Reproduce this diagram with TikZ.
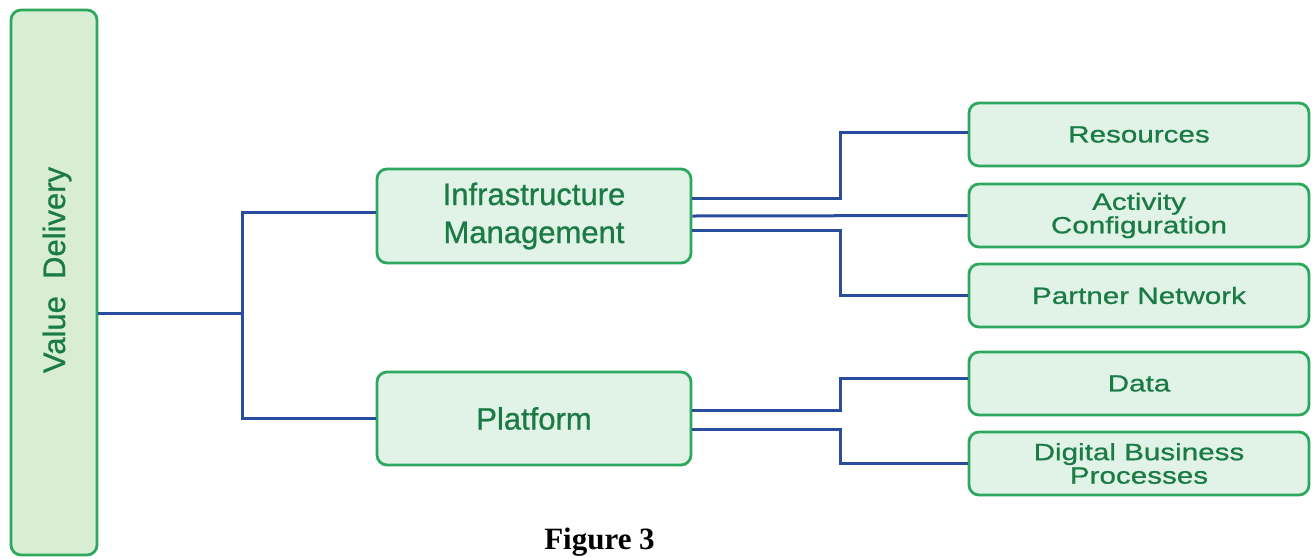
\documentclass[tikz,border=0pt]{standalone}
\usepackage{fontspec}
\setmainfont[FakeBold=0.8]{Liberation Sans}
\newfontfamily\widefont[FakeStretch=1.26,FakeBold=0.8]{Liberation Sans}
\newfontfamily\capfont{Liberation Serif}
\usetikzlibrary{calc}
\definecolor{boxline}{HTML}{2EA85E}
\definecolor{boxfill}{HTML}{E1F2E7}
\definecolor{vdfill}{HTML}{D9ECD4}
\definecolor{boxtext}{HTML}{1B7B45}
\definecolor{conncol}{HTML}{2A4C9E}
\tikzset{
  gbox/.style={draw=boxline, fill=boxfill, line width=2.8pt, rounded corners=10pt,
    text=boxtext, align=center, inner sep=0pt},
  midbox/.style={gbox, minimum width=314pt, minimum height=94pt,
    font=\fontsize{31}{38}\selectfont},
  leafbox/.style={gbox, minimum width=340pt, minimum height=63pt,
    font=\widefont\fontsize{23.5}{23.5}\selectfont},
  conn/.style={draw=conncol, line width=3pt},
}
\begin{document}
\begin{tikzpicture}[x=1pt, y=-1pt]
\useasboundingbox (0,0) rectangle (1315,558);

% left column
\node[gbox, fill=vdfill, minimum width=86pt, minimum height=545pt] (vd) at (54,282.5) {};
\node[text=boxtext, rotate=90, font=\fontsize{31}{31}\selectfont] (vdtext) at (57,270) {Value\ \ Delivery};

% middle column
\node[midbox] (im) at (534,216) {Infrastructure\\Management};
\node[midbox, minimum height=93pt] (plat) at (534,418.5) {Platform};

% right column
\node[leafbox] (res) at (1139,134.5) {Resources};
\node[leafbox] (act) at (1139,215.5) {Activity\\Configuration};
\node[leafbox] (pn)  at (1139,295.5) {Partner Network};
\node[leafbox] (data) at (1139,383.5) {Data};
\node[leafbox] (dbp) at (1139,463.5) {Digital Business\\Processes};

% trunk from the left column
\draw[conn] ([yshift=-30.5pt]vd.east) -- ++(144,0) coordinate (j);
\draw[conn] ([yshift=4pt]im.west) -| (j) |- (plat.west);

% branches of infrastructure management
\draw[conn] ([yshift=18pt]im.east) -- ++(148,0) |- ([yshift=2pt]res.west);
\draw[conn] (im.east) -- (act.west);
\draw[conn] ([yshift=-14pt]im.east) -- ++(148,0) |- (pn.west);

% branches of platform
\draw[conn] ([yshift=8pt]plat.east) -- ++(148,0) |- ([yshift=5pt]data.west);
\draw[conn] ([yshift=-10.5pt]plat.east) -- ++(148,0) |- (dbp.west);

% caption
\node[anchor=base, font=\capfont\bfseries\fontsize{31}{31}\selectfont] (cap) at (599.5,549) {Figure 3};
\end{tikzpicture}
\end{document}
